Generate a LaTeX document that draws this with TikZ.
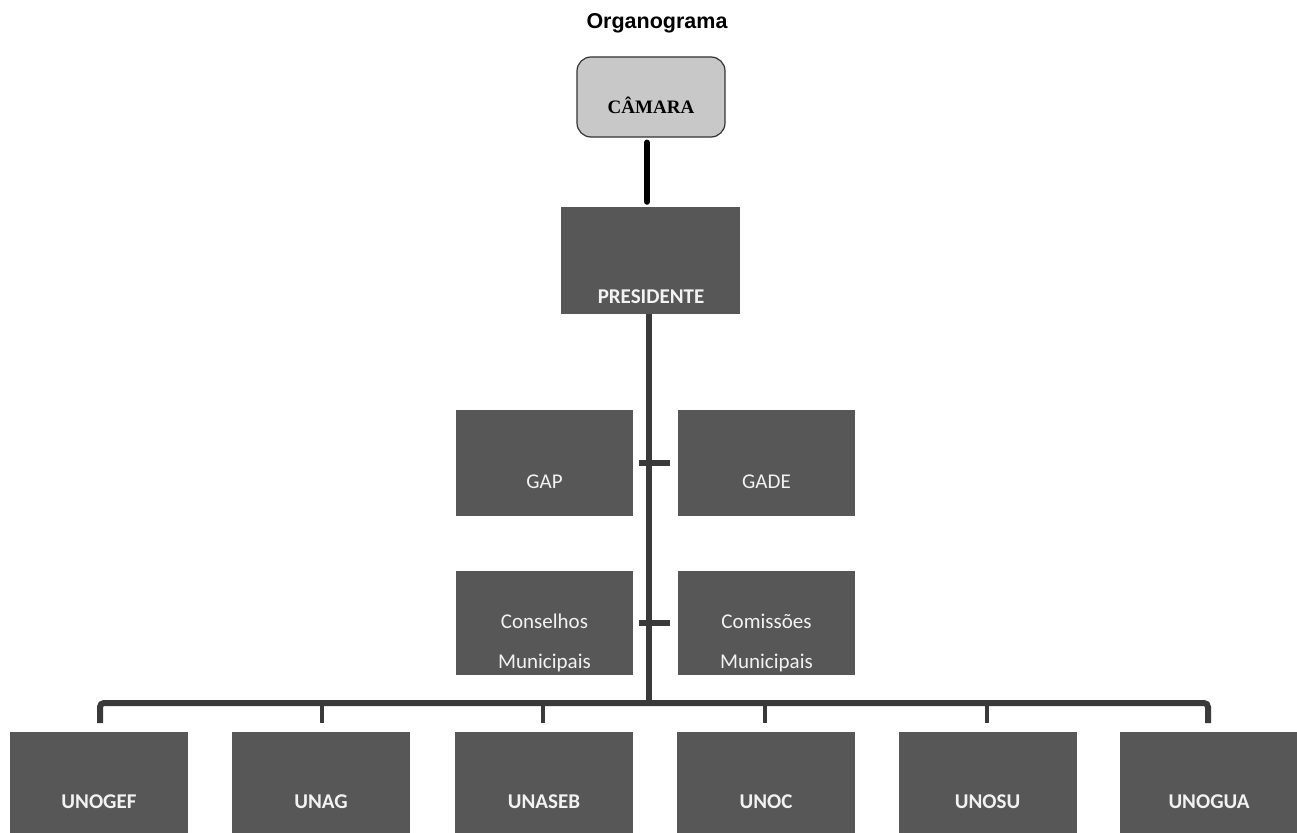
\documentclass[tikz,border=0pt]{standalone}
\usepackage{fontspec}
\setmainfont{Liberation Sans}
\newfontfamily\boxfont{Carlito}
\newfontfamily\serifbox{Liberation Serif}
\definecolor{boxgray}{HTML}{575757}
\definecolor{linegray}{HTML}{3A3A3A}
\definecolor{camgray}{HTML}{C8C8C8}
\definecolor{txt}{HTML}{F2F2F2}
\begin{document}
\begin{tikzpicture}[x=1pt,y=-1pt,
  unit/.style={fill=boxgray, draw=none, minimum width=178pt, minimum height=106pt, inner sep=0pt},
  boxtxt/.style={text=txt, font=\boxfont\fontsize{21}{40}\selectfont, align=center, inner sep=0pt},
  boxtxtb/.style={text=txt, font=\boxfont\bfseries\fontsize{21}{40}\selectfont, align=center, inner sep=0pt},
  conn/.style={draw=linegray, line width=6pt},
  drop/.style={draw=linegray, line width=4.5pt}]
\useasboundingbox (0,0) rectangle (1297,832);
\clip (0,0) rectangle (1297,832);
\fill[white] (0,0) rectangle (1297,832);
% title
\node[anchor=base, font=\bfseries\fontsize{21.5}{24}\selectfont, inner sep=0pt] (title) at (657,29) {Organograma};
% camara
\node[rounded corners=14pt, fill=camgray, draw=black!80, line width=1.2pt, minimum width=148pt, minimum height=80pt, inner sep=0pt] (cam) at (651,97) {};
\node[font=\serifbox\bfseries\fontsize{19}{22}\selectfont, inner sep=0pt] (camt) at (651,105.5) {CÂMARA};
% presidente
\node[unit, minimum width=179pt, minimum height=107pt] (pres) at (650.5,260.5) {};
\node[boxtxtb] (prest) at (651,297) {PRESIDENTE};
\draw[line width=6pt, line cap=round, shorten <=5pt, shorten >=5pt] (cam.south -| 647,0) -- (pres.north -| 647,0);
% GAP / GADE
\node[unit, minimum width=177pt] (gap) at (544.5,463) {};
\node[boxtxt] (gapt) at (544.5,482) {GAP};
\node[unit, minimum width=177pt] (gade) at (766.5,463) {};
\node[boxtxt] (gadet) at (766.5,482) {GADE};
% conselhos / comissoes
\node[unit, minimum width=177pt, minimum height=104pt] (cons) at (544.5,623) {};
\node[boxtxt] (const) at (544.5,643) {Conselhos\\Municipais};
\node[unit, minimum width=177pt, minimum height=104pt] (comi) at (766.5,623) {};
\node[boxtxt] (comit) at (766.5,643) {Comissões\\Municipais};
% bottom units
\foreach \n/\x/\t in {u1/99/UNOGEF, u2/321/UNAG, u3/544/UNASEB, u4/766/UNOC, u5/987.5/UNOSU, u6/1209/UNOGUA}{
  \node[unit, anchor=north] (\n) at (\x,732) {};
  \node[boxtxtb] (\n t) at (\x,802) {\t};
}
% bus
\coordinate (bus) at (649,703);
\draw[conn] (pres.south -| bus) -- (bus);
\draw[conn, shorten <=6pt, shorten >=8pt] (gap.east) -- (gade.west);
\draw[conn, shorten <=6pt, shorten >=8pt] (cons.east) -- (comi.west);
\draw[conn, rounded corners=4pt] ([yshift=9pt]u1.north -| 100,0) |- (bus) -| ([yshift=9pt]u6.north -| 1208,0);
\foreach \n/\x in {u2/322, u3/543, u4/765, u5/987}{
  \draw[drop] (bus -| \x,0) -- ([yshift=9pt]\n.north -| \x,0);
}
\end{tikzpicture}
\end{document}
